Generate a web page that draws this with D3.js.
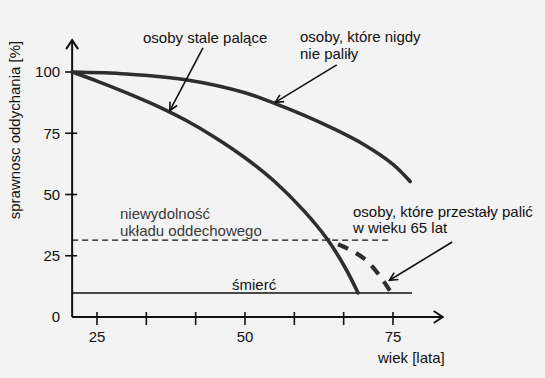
<!DOCTYPE html>
<html><head><meta charset="utf-8">
<script src="https://cdn.jsdelivr.net/npm/d3@7"></script>
<style>
html,body{margin:0;padding:0;background:#f3f3f3;}
svg{display:block;font-family:"Liberation Sans",Arial,sans-serif;}
</style></head>
<body>
<svg id="chart" width="545" height="378"></svg>
<script>
// ---- data ----
const neverAges    = [20.8, 30, 40, 50, 55, 60, 65, 70, 75, 77.9];
const neverValues  = [100, 99.2, 96.8, 91.5, 87.2, 82.3, 76.8, 70.5, 62.3, 55.3];
const smokerAges   = [20.8, 25, 30, 35, 40, 45, 50, 55, 60, 64, 67, 69.1];
const smokerValues = [100, 96.3, 91.5, 86.3, 80.3, 73.2, 65, 55.3, 43.2, 31.4, 19.8, 9.8];
const quitAges     = [64, 67.4, 70.4, 72.8, 74.5];
const quitValues   = [31.4, 27.8, 23.3, 16.7, 10.6];
const failureLevel = 31.4;
const deathLevel   = 9.8;
const xTickValues  = [25, 100/3, 125/3, 50, 175/3, 200/3, 75];
const xTickLabels  = ["25", "", "", "50", "", "", "75"];
const yTickValues  = [0, 25, 50, 75, 100];
const yTickLabels  = ["0", "25", "50", "75", "100"];
const xTitle = "wiek [lata]";
const yTitle = "sprawnosc oddychania [%]";

// ---- layout ----
const svg = d3.select("#chart");
const x = d3.scaleLinear().domain([25, 75]).range([97, 393]);
const y = d3.scaleLinear().domain([0, 100]).range([317, 72]);
const xMin = 20.8, xMax = 83.4, yMax = 113;
const ink = "#111", curveInk = "#2e2e2e";

// arrow markers
const defs = svg.append("defs");
defs.append("marker").attr("id","ah").attr("viewBox","0 0 10 10")
  .attr("refX",9).attr("refY",5).attr("markerWidth",10).attr("markerHeight",10)
  .attr("markerUnits","userSpaceOnUse").attr("orient","auto")
  .append("path").attr("d","M1,1 L9,5 L1,9").attr("fill","none")
  .attr("stroke",ink).attr("stroke-width",1.6);

// axes
const axisG = svg.append("g");
axisG.append("line").attr("x1",x(xMin)).attr("x2",x(xMax)).attr("y1",y(0)).attr("y2",y(0))
  .attr("stroke",ink).attr("stroke-width",2);
axisG.append("line").attr("x1",x(xMin)).attr("x2",x(xMin)).attr("y1",y(0)).attr("y2",y(yMax))
  .attr("stroke",ink).attr("stroke-width",2);
axisG.append("path")
  .attr("d",`M${x(xMin)-6},${y(yMax)+9} L${x(xMin)},${y(yMax)} L${x(xMin)+6},${y(yMax)+9}`)
  .attr("fill","none").attr("stroke",ink).attr("stroke-width",2);
axisG.append("path")
  .attr("d",`M${x(xMax)-9},${y(0)-6} L${x(xMax)},${y(0)} L${x(xMax)-9},${y(0)+6}`)
  .attr("fill","none").attr("stroke",ink).attr("stroke-width",2);

// x ticks
const xt = axisG.selectAll(".xt").data(xTickValues).enter().append("g")
  .attr("transform",d=>`translate(${x(d)},${y(0)})`);
xt.append("line").attr("y1",-5).attr("y2",8).attr("stroke",ink).attr("stroke-width",1.6);
xt.append("text").attr("y",25).attr("text-anchor","middle").attr("font-size",15)
  .attr("fill",ink).text((d,i)=>xTickLabels[i]);
// y ticks
const yt = axisG.selectAll(".yt").data(yTickValues).enter().append("g")
  .attr("transform",d=>`translate(${x(xMin)},${y(d)})`);
yt.filter(d=>d>0).append("line").attr("x1",-7).attr("x2",5).attr("stroke",ink).attr("stroke-width",1.6);
yt.append("text").attr("x",-12).attr("dy","0.36em").attr("text-anchor","end").attr("font-size",15)
  .attr("fill",ink).text((d,i)=>yTickLabels[i]);

// titles
svg.append("text").attr("x",378).attr("y",363).attr("font-size",15).attr("fill",ink).text(xTitle);
svg.append("text").attr("transform","translate(20,130) rotate(-90)").attr("text-anchor","middle")
  .attr("font-size",15).attr("fill",ink).text(yTitle);

// reference lines
svg.append("line").attr("x1",x(xMin)).attr("x2",x(74.2)).attr("y1",y(failureLevel)).attr("y2",y(failureLevel))
  .attr("stroke",ink).attr("stroke-width",1.3).attr("stroke-dasharray","6,4");
svg.append("line").attr("x1",x(xMin)).attr("x2",x(78.2)).attr("y1",y(deathLevel)).attr("y2",y(deathLevel))
  .attr("stroke",ink).attr("stroke-width",1.6);

// curves
const line = d3.line().x(d=>x(d[0])).y(d=>y(d[1])).curve(d3.curveCatmullRom.alpha(0.5));
svg.append("path").datum(d3.zip(neverAges,neverValues)).attr("d",line)
  .attr("fill","none").attr("stroke",curveInk).attr("stroke-width",3.6).attr("stroke-linecap","round");
svg.append("path").datum(d3.zip(smokerAges,smokerValues)).attr("d",line)
  .attr("fill","none").attr("stroke",curveInk).attr("stroke-width",3.6).attr("stroke-linecap","round");
svg.append("path").datum(d3.zip(quitAges,quitValues)).attr("d",line)
  .attr("fill","none").attr("stroke",curveInk).attr("stroke-width",4.2)
  .attr("stroke-dasharray","11,9").attr("stroke-dashoffset",-11);

// annotations
const arrows = [
  [[42.9,109.8],[37.3,84.2]],
  [[65.5,102.9],[55.1,87.6]],
  [[85.0,30.6],[74.4,15.0]]
];
svg.selectAll(".arr").data(arrows).enter().append("line")
  .attr("x1",d=>x(d[0][0])).attr("y1",d=>y(d[0][1]))
  .attr("x2",d=>x(d[1][0])).attr("y2",d=>y(d[1][1]))
  .attr("stroke",ink).attr("stroke-width",1.6).attr("marker-end","url(#ah)");

const labels = [
  {t:"osoby stale palące", x:143, y:43},
  {t:"osoby, które nigdy", x:300, y:42},
  {t:"nie paliły", x:300, y:59},
  {t:"osoby, które przestały palić", x:353, y:217},
  {t:"w wieku 65 lat", x:353, y:233},
  {t:"niewydolność", x:120, y:219, c:"#3a3a3a"},
  {t:"układu oddechowego", x:120, y:236, c:"#3a3a3a"},
  {t:"śmierć", x:232, y:290}
];
svg.selectAll(".lab").data(labels).enter().append("text")
  .attr("x",d=>d.x).attr("y",d=>d.y).attr("font-size",15)
  .attr("fill",d=>d.c||ink).text(d=>d.t);
</script>
</body></html>
